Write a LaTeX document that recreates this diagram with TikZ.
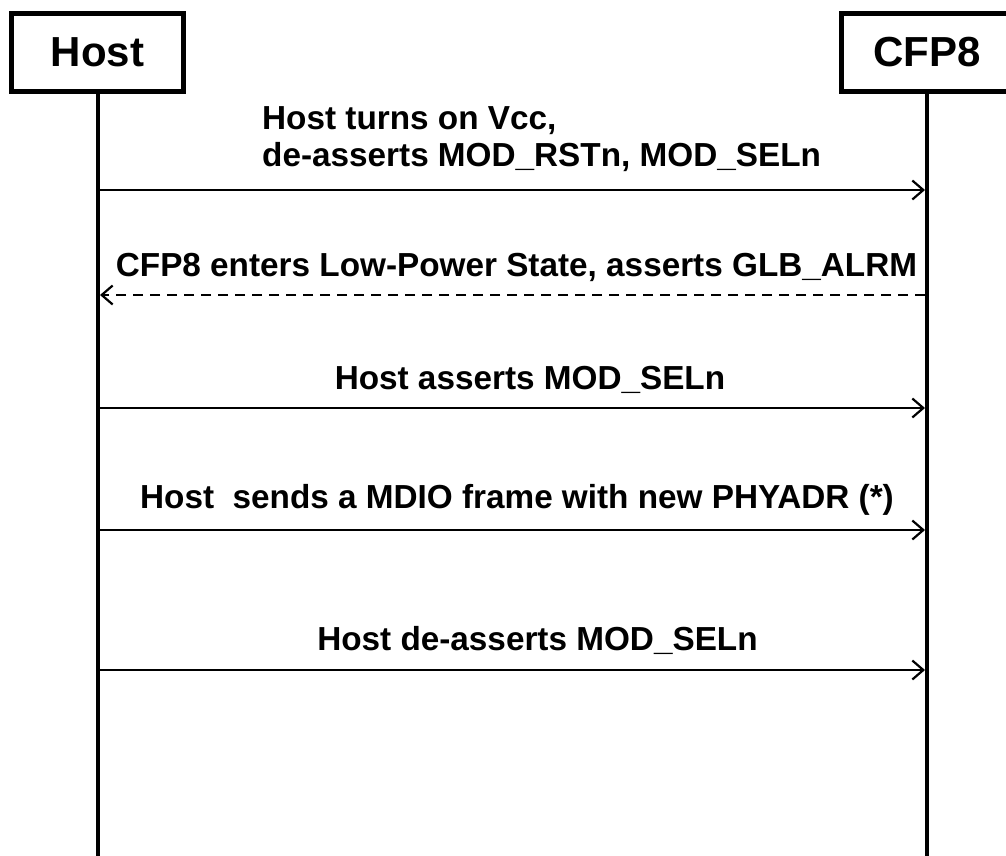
\documentclass[tikz,border=0pt]{standalone}
\usepackage{fontspec}
\setmainfont{Liberation Sans}
\usetikzlibrary{arrows.meta}
\begin{document}
\begin{tikzpicture}[x=1pt,y=-1pt,
  actor/.style={draw,line width=5pt,minimum width=172pt,minimum height=78pt,inner sep=0pt,font=\bfseries\fontsize{42}{50}\selectfont},
  life/.style={line width=4pt},
  msg/.style={line width=2pt,-{Straight Barb[length=11pt,width=19pt,line width=2.2pt]}},
  reply/.style={msg,dash pattern=on 10pt off 7pt},
  lbl/.style={font=\bfseries\fontsize{33.3}{37}\selectfont,inner sep=0pt}]
\useasboundingbox (0,0) rectangle (1006,855);
\clip (0,0) rectangle (1006,855);
\node[actor] (host) at (97.5,52.5) {Host};
\node[actor] (cfp) at (927,52.5) {CFP8};
\coordinate (hend) at (98,860);
\coordinate (cend) at (927,860);
\draw[life] (host.south -| hend) -- (hend);
\draw[life] (cfp.south -| cend) -- (cend);
\foreach \i/\y in {1/190,2/295,3/408,4/530,5/670}{
  \coordinate (h\i) at (100,\y);
  \coordinate (c\i) at (925,\y);
}
\draw[msg] (h1) -- (c1);
\draw[reply] (c2) -- (h2);
\draw[msg] (h3) -- (c3);
\draw[msg] (h4) -- (c4);
\draw[msg] (h5) -- (c5);
\node[lbl,align=left,anchor=west] (l1) at (262,139) {Host turns on Vcc,\\de-asserts MOD\_RSTn, MOD\_SELn};
\node[lbl] (l2) at (516.5,267) {CFP8 enters Low-Power State, asserts GLB\_ALRM};
\node[lbl] (l3) at (530,380) {Host asserts MOD\_SELn};
\node[lbl] (l4) at (517,500) {Host\ \ sends a MDIO frame with new PHYADR (*)};
\node[lbl] (l5) at (537.5,640) {Host de-asserts MOD\_SELn};
\end{tikzpicture}
\end{document}
